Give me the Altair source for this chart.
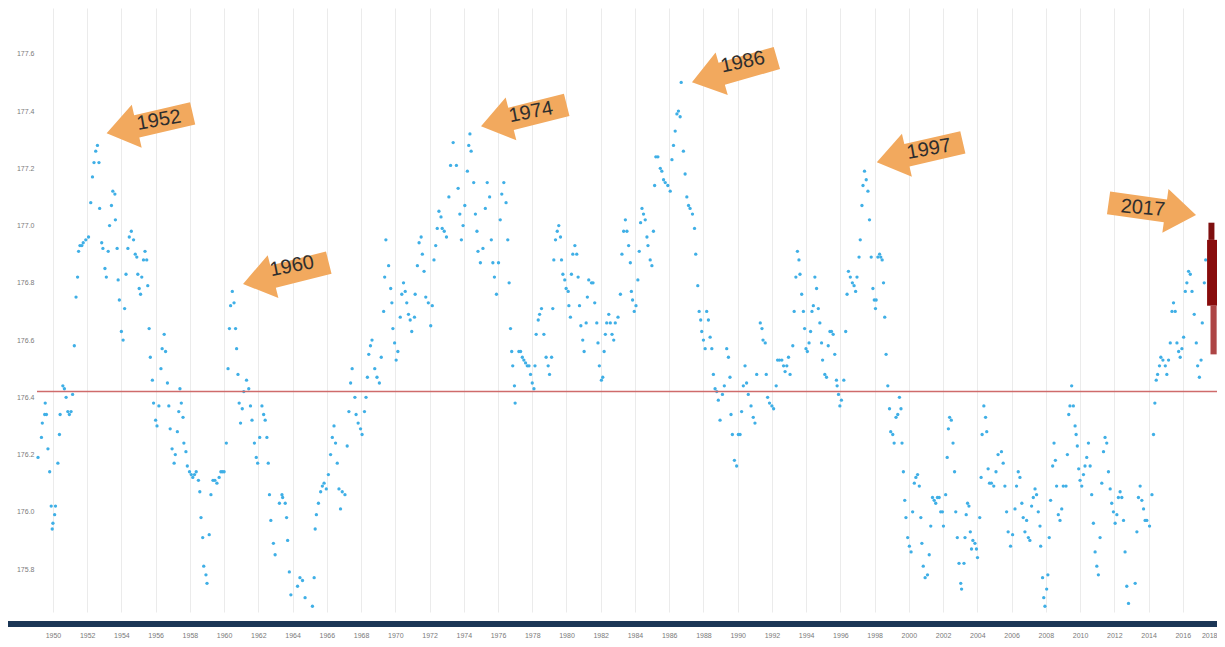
import altair as alt
import pandas as pd

# ---------------- data (year, lake level in m) ----------------
levels_1949_1962 = [
    (1949.13, 176.19), (1949.33, 176.26), (1949.38, 176.31), (1949.52, 176.34), (1949.62, 176.34),
    (1949.55, 176.38), (1949.71, 176.22), (1949.81, 176.14), (1949.90, 176.02), (1949.96, 175.94),
    (1950.00, 175.96), (1950.10, 175.99), (1950.15, 176.02), (1950.29, 176.17), (1950.38, 176.27),
    (1950.42, 176.34), (1950.58, 176.44), (1950.67, 176.43), (1950.77, 176.40), (1950.87, 176.35),
    (1950.96, 176.34), (1951.06, 176.35), (1951.15, 176.41), (1951.25, 176.58), (1951.35, 176.75),
    (1951.44, 176.82), (1951.50, 176.91), (1951.58, 176.93), (1951.69, 176.93), (1951.77, 176.94),
    (1951.92, 176.95), (1952.08, 176.96), (1952.21, 177.08), (1952.31, 177.17), (1952.40, 177.22),
    (1952.50, 177.26), (1952.60, 177.28), (1952.69, 177.22), (1952.73, 177.06), (1952.85, 176.94),
    (1952.92, 176.92), (1953.04, 176.85), (1953.12, 176.82), (1953.23, 176.91), (1953.31, 177.00),
    (1953.42, 177.07), (1953.50, 177.12), (1953.62, 177.11), (1953.65, 177.02), (1953.75, 176.92),
    (1953.81, 176.81), (1953.88, 176.74), (1954.00, 176.63), (1954.10, 176.60), (1954.19, 176.71),
    (1954.27, 176.83), (1954.38, 176.92), (1954.46, 176.96), (1954.58, 176.98), (1954.71, 176.95),
    (1954.81, 176.90), (1954.90, 176.89), (1954.96, 176.83), (1955.04, 176.78), (1955.12, 176.76),
    (1955.19, 176.82), (1955.29, 176.88), (1955.38, 176.91), (1955.48, 176.88), (1955.54, 176.79),
    (1955.62, 176.64), (1955.69, 176.54), (1955.81, 176.46), (1955.88, 176.38), (1956.00, 176.32),
    (1956.08, 176.30), (1956.19, 176.37), (1956.31, 176.50), (1956.38, 176.57), (1956.50, 176.62),
    (1956.58, 176.56), (1956.69, 176.45), (1956.77, 176.37), (1956.85, 176.29), (1956.96, 176.22),
    (1957.08, 176.17), (1957.15, 176.20), (1957.27, 176.28), (1957.35, 176.35), (1957.42, 176.43),
    (1957.50, 176.38), (1957.60, 176.33), (1957.65, 176.24), (1957.77, 176.21), (1957.85, 176.16),
    (1957.98, 176.14), (1958.08, 176.13), (1958.17, 176.12), (1958.27, 176.13), (1958.37, 176.14),
    (1958.50, 176.11), (1958.58, 176.07), (1958.65, 175.98), (1958.75, 175.91), (1958.81, 175.81),
    (1958.94, 175.78), (1959.00, 175.75), (1959.13, 175.92), (1959.23, 176.06), (1959.35, 176.11),
    (1959.46, 176.11), (1959.58, 176.10), (1959.71, 176.12), (1959.81, 176.14), (1959.90, 176.14),
    (1960.00, 176.14), (1960.13, 176.24), (1960.23, 176.50), (1960.31, 176.64), (1960.38, 176.72),
    (1960.48, 176.77), (1960.58, 176.73), (1960.67, 176.64), (1960.73, 176.57), (1960.81, 176.48),
    (1960.88, 176.38), (1960.96, 176.31), (1961.06, 176.36), (1961.15, 176.42), (1961.31, 176.46),
    (1961.44, 176.43), (1961.54, 176.37), (1961.63, 176.32), (1961.77, 176.24), (1961.88, 176.19),
    (1961.96, 176.17), (1962.08, 176.26), (1962.21, 176.37), (1962.31, 176.34), (1962.40, 176.32),
    (1962.50, 176.26), (1962.58, 176.17), (1962.65, 176.06), (1962.73, 175.97), (1962.88, 175.89),
    (1962.98, 175.85),
]

levels_1963_1976 = [
    (1963.23, 176.03), (1963.38, 176.06), (1963.42, 176.05), (1963.57, 176.03), (1963.65, 175.98),
    (1963.71, 175.90), (1963.81, 175.79), (1963.90, 175.71), (1964.29, 175.74), (1964.43, 175.77),
    (1964.58, 175.76), (1964.73, 175.70), (1965.16, 175.67), (1965.26, 175.77), (1965.32, 175.94),
    (1965.39, 175.99), (1965.51, 176.03), (1965.64, 176.07), (1965.74, 176.09), (1965.84, 176.10),
    (1965.97, 176.08), (1966.09, 176.13), (1966.22, 176.20), (1966.32, 176.26), (1966.42, 176.30),
    (1966.51, 176.24), (1966.61, 176.17), (1966.71, 176.08), (1966.80, 176.01), (1966.90, 176.07),
    (1967.06, 176.06), (1967.19, 176.23), (1967.29, 176.35), (1967.39, 176.45), (1967.48, 176.50),
    (1967.64, 176.40), (1967.71, 176.34), (1967.83, 176.31), (1967.97, 176.29), (1968.06, 176.27),
    (1968.20, 176.35), (1968.29, 176.40), (1968.37, 176.47), (1968.45, 176.55), (1968.55, 176.58),
    (1968.64, 176.60), (1968.80, 176.50), (1968.93, 176.47), (1969.07, 176.45), (1969.18, 176.54),
    (1969.32, 176.70), (1969.38, 176.82), (1969.45, 176.95), (1969.61, 176.86), (1969.73, 176.78),
    (1969.80, 176.73), (1969.86, 176.64), (1969.96, 176.59), (1970.05, 176.53), (1970.15, 176.56),
    (1970.29, 176.68), (1970.38, 176.76), (1970.48, 176.80), (1970.58, 176.77), (1970.67, 176.73),
    (1970.77, 176.69), (1970.87, 176.67), (1970.96, 176.63), (1971.12, 176.68), (1971.16, 176.76),
    (1971.29, 176.86), (1971.39, 176.94), (1971.51, 176.96), (1971.58, 176.90), (1971.68, 176.84),
    (1971.78, 176.75), (1971.93, 176.73), (1972.07, 176.65), (1972.16, 176.72), (1972.26, 176.88),
    (1972.36, 176.93), (1972.45, 176.99), (1972.55, 177.05), (1972.67, 177.03), (1972.74, 176.99),
    (1972.86, 176.98), (1972.99, 176.96), (1973.13, 177.10), (1973.23, 177.21), (1973.38, 177.29),
    (1973.57, 177.21), (1973.67, 177.13), (1973.77, 177.04), (1973.86, 176.95), (1973.96, 177.00),
    (1974.06, 177.07), (1974.21, 177.19), (1974.29, 177.28), (1974.36, 177.32), (1974.43, 177.26),
    (1974.58, 177.15), (1974.68, 177.04), (1974.77, 176.98), (1974.83, 176.91), (1974.97, 176.87),
    (1975.12, 176.92), (1975.26, 177.06), (1975.37, 177.15), (1975.51, 177.10), (1975.61, 176.95),
    (1975.70, 176.87), (1975.79, 176.82), (1975.91, 176.76), (1976.03, 176.87), (1976.13, 177.02),
    (1976.22, 177.11), (1976.34, 177.15), (1976.47, 177.08), (1976.57, 176.95), (1976.65, 176.80),
    (1976.73, 176.64), (1976.80, 176.56), (1976.86, 176.51), (1976.96, 176.44), (1977.00, 176.38),
]

levels_1977_1990 = [
    (1977.22, 176.56), (1977.32, 176.56), (1977.42, 176.54), (1977.51, 176.53), (1977.61, 176.52),
    (1977.71, 176.51), (1977.81, 176.51), (1977.90, 176.48), (1978.00, 176.45), (1978.10, 176.43),
    (1978.16, 176.51), (1978.23, 176.62), (1978.35, 176.67), (1978.43, 176.69), (1978.54, 176.71),
    (1978.68, 176.62), (1978.81, 176.54), (1978.93, 176.51), (1979.01, 176.48), (1979.13, 176.54),
    (1979.20, 176.71), (1979.26, 176.88), (1979.36, 176.95), (1979.46, 176.98), (1979.55, 177.00),
    (1979.65, 176.96), (1979.71, 176.88), (1979.79, 176.83), (1979.90, 176.81), (1979.98, 176.78),
    (1980.10, 176.77), (1980.14, 176.72), (1980.23, 176.68), (1980.29, 176.83), (1980.37, 176.90),
    (1980.49, 176.93), (1980.60, 176.90), (1980.68, 176.82), (1980.76, 176.72), (1980.84, 176.65),
    (1980.95, 176.60), (1981.03, 176.56), (1981.15, 176.66), (1981.22, 176.75), (1981.30, 176.81),
    (1981.46, 176.80), (1981.55, 176.80), (1981.65, 176.73), (1981.77, 176.66), (1981.84, 176.59),
    (1981.92, 176.51), (1982.04, 176.46), (1982.12, 176.47), (1982.20, 176.56), (1982.27, 176.62),
    (1982.35, 176.66), (1982.47, 176.69), (1982.56, 176.66), (1982.66, 176.62), (1982.76, 176.60),
    (1982.85, 176.66), (1983.01, 176.68), (1983.15, 176.76), (1983.24, 176.90), (1983.34, 176.98),
    (1983.44, 177.02), (1983.53, 176.98), (1983.63, 176.93), (1983.73, 176.87), (1983.79, 176.77),
    (1983.86, 176.74), (1983.96, 176.70), (1984.06, 176.72), (1984.17, 176.81), (1984.25, 176.91),
    (1984.33, 177.01), (1984.41, 177.06), (1984.50, 177.04), (1984.60, 177.02), (1984.70, 176.96),
    (1984.76, 176.93), (1984.89, 176.88), (1984.99, 176.86), (1985.08, 176.98), (1985.15, 177.14),
    (1985.22, 177.24), (1985.34, 177.24), (1985.48, 177.20), (1985.57, 177.19), (1985.67, 177.16),
    (1985.77, 177.15), (1985.92, 177.14), (1986.06, 177.12), (1986.16, 177.23), (1986.25, 177.28),
    (1986.35, 177.33), (1986.45, 177.39), (1986.54, 177.40), (1986.64, 177.38), (1986.70, 177.50),
    (1986.83, 177.26), (1986.93, 177.18), (1987.03, 177.10), (1987.13, 177.07), (1987.22, 177.06),
    (1987.36, 177.04), (1987.48, 176.99), (1987.55, 176.90), (1987.67, 176.79), (1987.75, 176.70),
    (1987.84, 176.67), (1987.90, 176.63), (1988.00, 176.60), (1988.10, 176.57), (1988.19, 176.70),
    (1988.29, 176.67), (1988.39, 176.61), (1988.49, 176.57), (1988.58, 176.48), (1988.68, 176.43),
    (1988.78, 176.42), (1988.87, 176.39), (1988.97, 176.32), (1989.11, 176.41), (1989.22, 176.44),
    (1989.36, 176.57), (1989.46, 176.54), (1989.55, 176.47), (1989.61, 176.34), (1989.69, 176.27),
    (1989.81, 176.18), (1989.94, 176.16), (1990.04, 176.27), (1990.14, 176.27), (1990.23, 176.35),
    (1990.33, 176.44), (1990.43, 176.51), (1990.52, 176.45), (1990.62, 176.41), (1990.78, 176.37),
    (1990.91, 176.33), (1991.01, 176.31), (1991.11, 176.48),
]

levels_1991_2005 = [
    (1991.32, 176.66), (1991.42, 176.64), (1991.48, 176.60), (1991.61, 176.59), (1991.67, 176.48),
    (1991.75, 176.40), (1991.86, 176.38), (1992.00, 176.37), (1992.10, 176.36), (1992.25, 176.44),
    (1992.33, 176.53), (1992.44, 176.53), (1992.58, 176.53), (1992.68, 176.51), (1992.77, 176.49),
    (1992.87, 176.51), (1992.97, 176.54), (1993.06, 176.48), (1993.22, 176.58), (1993.30, 176.70),
    (1993.40, 176.82), (1993.49, 176.91), (1993.58, 176.88), (1993.64, 176.83), (1993.74, 176.76),
    (1993.84, 176.70), (1993.91, 176.64), (1993.99, 176.57), (1994.07, 176.56), (1994.17, 176.59),
    (1994.26, 176.63), (1994.34, 176.70), (1994.42, 176.72), (1994.51, 176.82), (1994.61, 176.78),
    (1994.71, 176.71), (1994.80, 176.66), (1994.90, 176.59), (1994.96, 176.53), (1995.09, 176.48),
    (1995.19, 176.47), (1995.29, 176.58), (1995.39, 176.63), (1995.48, 176.63), (1995.58, 176.62),
    (1995.67, 176.55), (1995.77, 176.46), (1995.81, 176.44), (1995.89, 176.41), (1995.97, 176.37),
    (1996.06, 176.39), (1996.20, 176.46), (1996.31, 176.63), (1996.39, 176.76), (1996.47, 176.84),
    (1996.58, 176.82), (1996.70, 176.80), (1996.80, 176.79), (1996.89, 176.77), (1996.97, 176.82),
    (1997.09, 176.89), (1997.16, 176.95), (1997.26, 177.07), (1997.32, 177.14), (1997.41, 177.19),
    (1997.51, 177.16), (1997.61, 177.12), (1997.70, 177.02), (1997.80, 176.89), (1997.90, 176.78),
    (1997.98, 176.74), (1998.05, 176.71), (1998.09, 176.74), (1998.19, 176.89), (1998.29, 176.90),
    (1998.36, 176.89), (1998.44, 176.88), (1998.52, 176.80), (1998.59, 176.68), (1998.67, 176.55),
    (1998.77, 176.44), (1998.87, 176.36), (1998.94, 176.28), (1999.06, 176.27), (1999.14, 176.24),
    (1999.25, 176.33), (1999.35, 176.34), (1999.45, 176.40), (1999.54, 176.36), (1999.60, 176.24),
    (1999.68, 176.14), (1999.76, 176.04), (1999.83, 175.98), (1999.93, 175.91), (2000.03, 175.88),
    (2000.13, 175.86), (2000.22, 176.00), (2000.32, 176.10), (2000.41, 176.12), (2000.51, 176.13),
    (2000.61, 176.09), (2000.70, 175.98), (2000.76, 175.89), (2000.84, 175.81), (2000.95, 175.77),
    (2001.09, 175.78), (2001.19, 175.85), (2001.28, 175.95), (2001.38, 176.05), (2001.48, 176.04),
    (2001.57, 176.03), (2001.67, 176.05), (2001.77, 176.05), (2001.86, 176.00), (2001.96, 176.00),
    (2002.02, 175.95), (2002.15, 176.06), (2002.24, 176.19), (2002.31, 176.29), (2002.38, 176.33),
    (2002.48, 176.32), (2002.58, 176.24), (2002.67, 176.14), (2002.74, 176.00), (2002.83, 175.91),
    (2002.93, 175.82), (2003.03, 175.75), (2003.08, 175.73), (2003.22, 175.82), (2003.28, 175.91),
    (2003.35, 175.99), (2003.43, 176.03), (2003.51, 176.02), (2003.59, 175.93), (2003.66, 175.87),
    (2003.74, 175.90), (2003.86, 175.89), (2003.95, 175.87), (2004.01, 175.84), (2004.14, 175.98),
    (2004.22, 176.12), (2004.28, 176.27), (2004.38, 176.37), (2004.48, 176.33), (2004.55, 176.28),
    (2004.63, 176.15), (2004.71, 176.10), (2004.82, 176.10), (2004.96, 176.09), (2005.09, 176.14),
    (2005.21, 176.20),
]

levels_2005_2017 = [
    (2005.41, 176.21), (2005.51, 176.17), (2005.61, 176.09), (2005.71, 176.00), (2005.80, 175.93),
    (2005.94, 175.88), (2006.06, 175.92), (2006.20, 176.01), (2006.29, 176.09), (2006.39, 176.14),
    (2006.49, 176.12), (2006.60, 176.03), (2006.68, 175.98), (2006.78, 175.93), (2006.88, 175.97),
    (2006.98, 175.91), (2007.07, 175.90), (2007.17, 176.02), (2007.27, 176.05), (2007.37, 176.08),
    (2007.46, 176.06), (2007.56, 176.00), (2007.66, 175.95), (2007.70, 175.88), (2007.81, 175.77),
    (2007.88, 175.70), (2007.95, 175.67), (2008.05, 175.73), (2008.12, 175.78), (2008.20, 175.91),
    (2008.28, 176.04), (2008.40, 176.16), (2008.48, 176.24), (2008.56, 176.18), (2008.63, 176.09),
    (2008.73, 175.99), (2008.83, 175.97), (2008.93, 176.01), (2009.02, 176.09), (2009.18, 176.09),
    (2009.26, 176.20), (2009.34, 176.34), (2009.41, 176.37), (2009.51, 176.44), (2009.61, 176.37),
    (2009.71, 176.30), (2009.77, 176.27), (2009.84, 176.23), (2009.92, 176.15), (2010.00, 176.11),
    (2010.10, 176.09), (2010.20, 176.13), (2010.29, 176.16), (2010.39, 176.19), (2010.49, 176.24),
    (2010.59, 176.16), (2010.68, 176.06), (2010.78, 175.96), (2010.88, 175.86), (2010.98, 175.81),
    (2011.07, 175.78), (2011.17, 175.91), (2011.27, 176.10), (2011.37, 176.21), (2011.46, 176.26),
    (2011.56, 176.24), (2011.66, 176.14), (2011.76, 176.08), (2011.85, 176.03), (2011.95, 176.00),
    (2012.05, 175.96), (2012.15, 175.99), (2012.24, 176.05), (2012.34, 176.07), (2012.44, 176.05),
    (2012.54, 175.97), (2012.63, 175.86), (2012.73, 175.74), (2012.83, 175.68), (2013.22, 175.75),
    (2013.32, 175.93), (2013.41, 176.05), (2013.51, 176.09), (2013.61, 176.04), (2013.71, 176.01),
    (2013.80, 175.97), (2013.90, 175.97), (2014.06, 175.95), (2014.20, 176.06), (2014.29, 176.27),
    (2014.37, 176.38), (2014.45, 176.46), (2014.53, 176.48), (2014.64, 176.51), (2014.72, 176.54),
    (2014.84, 176.53), (2014.98, 176.51), (2015.07, 176.48), (2015.17, 176.53), (2015.27, 176.59),
    (2015.37, 176.70), (2015.46, 176.73), (2015.56, 176.70), (2015.66, 176.59), (2015.76, 176.56),
    (2015.85, 176.54), (2015.95, 176.57), (2016.05, 176.61), (2016.15, 176.77), (2016.24, 176.80),
    (2016.34, 176.84), (2016.44, 176.83), (2016.54, 176.77), (2016.67, 176.69), (2016.79, 176.59),
    (2016.87, 176.51), (2016.97, 176.47), (2017.07, 176.53), (2017.14, 176.66), (2017.26, 176.80),
    (2017.34, 176.88),
]

# long-term mean level (red line)
mean_level = [176.42]

# 2017 highlight (dark red streak): year span and level span of each segment
hl_year_start = [2017.50, 2017.42, 2017.62]
hl_year_end = [2017.85, 2018.00, 2017.98]
hl_level_top = [177.01, 176.95, 176.72]
hl_level_bottom = [176.95, 176.72, 176.55]
hl_part = ["top", "middle", "tail"]

# annotation arrows
arrow_text = ["1952", "1960", "1974", "1986", "1997", "2017"]
arrow_year = [1955.65, 1963.61, 1977.51, 1989.81, 2000.64, 2014.22]
arrow_level = [177.357, 176.833, 177.384, 177.543, 177.256, 177.058]
arrow_angle = [347, 346, 346, 344, 347, 188]
text_year = [1956.19, 1963.96, 1977.92, 1990.30, 2001.17, 2013.67]
text_level = [177.368, 176.858, 177.396, 177.571, 177.267, 177.061]
text_angle = [350, 349, 349, 348, 350, 5]

x_ticks = list(range(1950, 2019, 2))
y_ticks = [175.8, 176.0, 176.2, 176.4, 176.6, 176.8, 177.0, 177.2, 177.4, 177.6]

# ---------------- build ----------------
W, H = 1180, 604
pairs = levels_1949_1962 + levels_1963_1976 + levels_1977_1990 + levels_1991_2005 + levels_2005_2017
df_pts = pd.DataFrame(pairs, columns=["year", "level"])
df_mean = pd.DataFrame({"level": mean_level})
df_hl = pd.DataFrame({"year": hl_year_start, "y1": hl_year_end, "level": hl_level_top,
                      "bottom": hl_level_bottom, "part": hl_part})
df_arrow = pd.DataFrame({"label": arrow_text, "year": arrow_year, "level": arrow_level,
                         "ang": arrow_angle, "tyear": text_year, "tlevel": text_level,
                         "tang": text_angle})

x_scale = alt.Scale(domain=[1949.07, 2018.0], nice=False, zero=False)
y_scale = alt.Scale(domain=[175.65, 177.76], nice=False, zero=False)

x_axis = alt.Axis(values=x_ticks, format="d", labelFontSize=7, labelColor="#7a7a7a",
                  labelFont="Liberation Sans", grid=True, gridColor="#ebebeb", gridWidth=1,
                  domain=False, ticks=False, labelPadding=19, title=None)
y_axis = alt.Axis(values=y_ticks, format=".1f", labelFontSize=7, labelColor="#7a7a7a",
                  labelFont="Liberation Sans", grid=False, domain=False, ticks=False,
                  labelPadding=3, title=None)

X = lambda f: alt.X(f, scale=x_scale, axis=x_axis)
Y = lambda f: alt.Y(f, scale=y_scale, axis=y_axis)

points = alt.Chart(df_pts).mark_circle(size=11, color="#3fafe6", opacity=1).encode(
    x=X("year:Q"), y=Y("level:Q"),
)

mean_rule = alt.Chart(df_mean).mark_rule(color="#cf6b6b", strokeWidth=1.5).encode(
    y=Y("level:Q")
)

highlight = alt.Chart(df_hl).mark_rect().encode(
    x=X("year:Q"),
    x2="y1:Q",
    y=Y("level:Q"),
    y2="bottom:Q",
    color=alt.Color("part:N", scale=alt.Scale(domain=["top", "middle", "tail"],
                                               range=["#7e0f0f", "#880c0c", "#ad4545"]),
                    legend=None),
)

ARROW = "M -1 0 L -0.3 -0.5 L -0.3 -0.26 L 1 -0.26 L 1 0.26 L -0.3 0.26 L -0.3 0.5 Z"
arrows = alt.Chart(df_arrow).mark_point(shape=ARROW, filled=True, fill="#f2a95e",
                                        opacity=1, size=7800, strokeWidth=0).encode(
    x=X("year:Q"), y=Y("level:Q"),
    angle=alt.Angle("ang:Q", scale=None),
)

labels = alt.Chart(df_arrow).mark_text(fontSize=20, font="Liberation Sans", color="#2e2e2e",
                                       align="center", baseline="middle").encode(
    x=alt.X("tyear:Q", scale=x_scale, axis=x_axis),
    y=alt.Y("tlevel:Q", scale=y_scale, axis=y_axis),
    text="label:N",
    angle=alt.Angle("tang:Q", scale=None),
)

navy = alt.Chart(df_mean).mark_rule(color="#1b3656", strokeWidth=6).encode(
    x=alt.value(-33), x2=alt.value(W + 10), y=alt.value(H + 12)
)

chart = alt.layer(points, mean_rule, highlight, arrows, labels, navy).properties(
    width=W, height=H,
    padding={"left": 29, "top": 0, "right": 0, "bottom": 27},
    autosize=alt.AutoSizeParams(type="none"),
    background="white",
).configure_view(stroke=None)

chart.save("out.html", embed_options={"renderer": "svg", "actions": False})
